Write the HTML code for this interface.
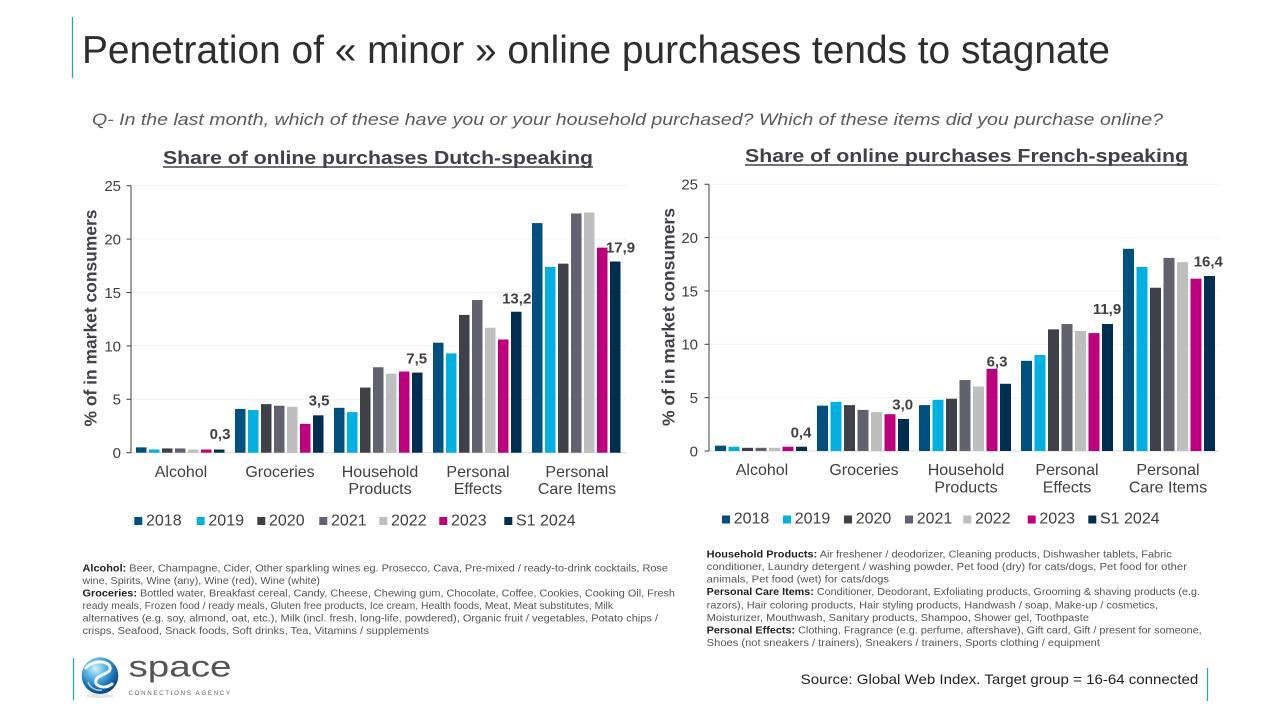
<!DOCTYPE html>
<html><head><meta charset="utf-8"><style>
html,body{margin:0;padding:0;background:#fff;}
svg{display:block;}
text{font-family:"Liberation Sans",Arial,sans-serif;}
</style></head><body>
<svg width="1280" height="720" viewBox="0 0 1280 720" xmlns="http://www.w3.org/2000/svg">
<defs>
<radialGradient id="gl" cx="0.38" cy="0.3" r="0.75">
<stop offset="0" stop-color="#d6f1fb"/><stop offset="0.35" stop-color="#5cb8e6"/><stop offset="0.75" stop-color="#1264a8"/><stop offset="1" stop-color="#0a3f78"/>
</radialGradient>
</defs>
<rect width="1280" height="720" fill="#fff"/>
<!-- header -->
<line x1="72.5" y1="17" x2="72.5" y2="78" stroke="#2aa3ba" stroke-width="1.3"/>
<text x="82" y="63" font-size="39" fill="#2e2e2e" textLength="1028" lengthAdjust="spacingAndGlyphs">Penetration of « minor » online purchases tends to stagnate</text>
<text x="92" y="125" font-size="17" font-style="italic" fill="#5a5a5a" textLength="1071" lengthAdjust="spacingAndGlyphs">Q- In the last month, which of these have you or your household purchased? Which of these items did you purchase online?</text>

<!-- chart titles -->
<text x="163" y="164" font-size="18" font-weight="bold" fill="#404048" textLength="430" lengthAdjust="spacingAndGlyphs">Share of online purchases Dutch-speaking</text>
<line x1="163" y1="167" x2="593" y2="167" stroke="#404048" stroke-width="1.5"/>
<text x="745" y="162" font-size="18" font-weight="bold" fill="#404048" textLength="443" lengthAdjust="spacingAndGlyphs">Share of online purchases French-speaking</text>
<line x1="745" y1="165" x2="1188" y2="165" stroke="#404048" stroke-width="1.5"/>

<!-- LEFT CHART -->
<g stroke="#f2f2f2" stroke-width="1">
<line x1="131" y1="185.7" x2="626" y2="185.7"/><line x1="131" y1="239.1" x2="626" y2="239.1"/><line x1="131" y1="292.5" x2="626" y2="292.5"/><line x1="131" y1="345.9" x2="626" y2="345.9"/><line x1="131" y1="399.3" x2="626" y2="399.3"/>
</g>
<line x1="131" y1="452.7" x2="626" y2="452.7" stroke="#d9d9d9" stroke-width="1"/>
<g stroke="#404040" stroke-width="1">
<line x1="131" y1="185.7" x2="131" y2="452.7"/>
<line x1="126.5" y1="185.7" x2="131" y2="185.7"/><line x1="126.5" y1="239.1" x2="131" y2="239.1"/><line x1="126.5" y1="292.5" x2="131" y2="292.5"/><line x1="126.5" y1="345.9" x2="131" y2="345.9"/><line x1="126.5" y1="399.3" x2="131" y2="399.3"/><line x1="126.5" y1="452.7" x2="131" y2="452.7"/>
</g>
<g font-size="15" fill="#404040" text-anchor="end">
<text x="121" y="191">25</text><text x="121" y="244.5">20</text><text x="121" y="298">15</text><text x="121" y="351.5">10</text><text x="121" y="404.5">5</text><text x="121" y="458">0</text>
</g>
<text transform="translate(96.5,318) rotate(-90)" text-anchor="middle" font-size="17.5" font-weight="bold" fill="#404048" textLength="217" lengthAdjust="spacingAndGlyphs">% of in market consumers</text>

<g>
<rect x="136" y="447.36" width="10.5" height="5.34" fill="#00507f"/>
<rect x="149" y="449.5" width="10.5" height="3.2" fill="#00b0e0"/>
<rect x="162" y="448.43" width="10.5" height="4.27" fill="#404048"/>
<rect x="175" y="448.43" width="10.5" height="4.27" fill="#62626e"/>
<rect x="188" y="449.5" width="10.5" height="3.2" fill="#bebebe"/>
<rect x="201" y="449.5" width="10.5" height="3.2" fill="#be007e"/>
<rect x="214" y="449.5" width="10.5" height="3.2" fill="#002e50"/>
<rect x="235" y="408.91" width="10.5" height="43.79" fill="#00507f"/>
<rect x="248" y="409.98" width="10.5" height="42.72" fill="#00b0e0"/>
<rect x="261" y="404.11" width="10.5" height="48.59" fill="#404048"/>
<rect x="274" y="405.71" width="10.5" height="46.99" fill="#62626e"/>
<rect x="287" y="406.78" width="10.5" height="45.92" fill="#bebebe"/>
<rect x="300" y="423.86" width="10.5" height="28.84" fill="#be007e"/>
<rect x="313" y="415.32" width="10.5" height="37.38" fill="#002e50"/>
<rect x="334" y="407.84" width="10.5" height="44.86" fill="#00507f"/>
<rect x="347" y="412.12" width="10.5" height="40.58" fill="#00b0e0"/>
<rect x="360" y="387.55" width="10.5" height="65.15" fill="#404048"/>
<rect x="373" y="367.26" width="10.5" height="85.44" fill="#62626e"/>
<rect x="386" y="373.67" width="10.5" height="79.03" fill="#bebebe"/>
<rect x="399" y="371.53" width="10.5" height="81.17" fill="#be007e"/>
<rect x="412" y="372.6" width="10.5" height="80.1" fill="#002e50"/>
<rect x="433" y="342.7" width="10.5" height="110" fill="#00507f"/>
<rect x="446" y="353.38" width="10.5" height="99.32" fill="#00b0e0"/>
<rect x="459" y="314.93" width="10.5" height="137.77" fill="#404048"/>
<rect x="472" y="299.98" width="10.5" height="152.72" fill="#62626e"/>
<rect x="485" y="327.74" width="10.5" height="124.96" fill="#bebebe"/>
<rect x="498" y="339.49" width="10.5" height="113.21" fill="#be007e"/>
<rect x="511" y="311.72" width="10.5" height="140.98" fill="#002e50"/>
<rect x="532" y="223.08" width="10.5" height="229.62" fill="#00507f"/>
<rect x="545" y="266.87" width="10.5" height="185.83" fill="#00b0e0"/>
<rect x="558" y="263.66" width="10.5" height="189.04" fill="#404048"/>
<rect x="571" y="213.47" width="10.5" height="239.23" fill="#62626e"/>
<rect x="584" y="212.4" width="10.5" height="240.3" fill="#bebebe"/>
<rect x="597" y="247.64" width="10.5" height="205.06" fill="#be007e"/>
<rect x="610" y="261.53" width="10.5" height="191.17" fill="#002e50"/>
</g>
<g font-size="15" font-weight="bold" fill="#404048" text-anchor="middle">
<text x="220" y="439">0,3</text><text x="319" y="405.5">3,5</text><text x="416.7" y="363.3">7,5</text><text x="516.7" y="303.3">13,2</text><text x="620.5" y="252.7">17,9</text>
</g>
<g font-size="16" fill="#404040" text-anchor="middle">
<text x="181" y="477">Alcohol</text><text x="280" y="477">Groceries</text>
<text x="380" y="477">Household</text><text x="380" y="494">Products</text>
<text x="478" y="477">Personal</text><text x="478" y="494">Effects</text>
<text x="577" y="477">Personal</text><text x="577" y="494">Care Items</text>
</g>
<g font-size="16" fill="#404040">
<rect x="134.3" y="517" width="8" height="8" fill="#00507f"/><text x="146" y="525.5">2018</text>
<rect x="196.7" y="517" width="8" height="8" fill="#00b0e0"/><text x="208.4" y="525.5">2019</text>
<rect x="257.3" y="517" width="8" height="8" fill="#404048"/><text x="269" y="525.5">2020</text>
<rect x="319.3" y="517" width="8" height="8" fill="#62626e"/><text x="331" y="525.5">2021</text>
<rect x="379.3" y="517" width="8" height="8" fill="#bebebe"/><text x="391" y="525.5">2022</text>
<rect x="439.3" y="517" width="8" height="8" fill="#be007e"/><text x="451" y="525.5">2023</text>
<rect x="504.3" y="517" width="8" height="8" fill="#002e50"/><text x="516" y="525.5">S1 2024</text>
</g>

<!-- RIGHT CHART -->
<g stroke="#f2f2f2" stroke-width="1">
<line x1="709" y1="184.25" x2="1219" y2="184.25"/><line x1="709" y1="237.6" x2="1219" y2="237.6"/><line x1="709" y1="290.95" x2="1219" y2="290.95"/><line x1="709" y1="344.3" x2="1219" y2="344.3"/><line x1="709" y1="397.65" x2="1219" y2="397.65"/>
</g>
<line x1="709" y1="451" x2="1219" y2="451" stroke="#d9d9d9" stroke-width="1"/>
<g stroke="#404040" stroke-width="1">
<line x1="709" y1="184.25" x2="709" y2="451"/>
<line x1="704.5" y1="184.25" x2="709" y2="184.25"/><line x1="704.5" y1="237.6" x2="709" y2="237.6"/><line x1="704.5" y1="290.95" x2="709" y2="290.95"/><line x1="704.5" y1="344.3" x2="709" y2="344.3"/><line x1="704.5" y1="397.65" x2="709" y2="397.65"/><line x1="704.5" y1="451" x2="709" y2="451"/>
</g>
<g font-size="15" fill="#404040" text-anchor="end">
<text x="698" y="189.5">25</text><text x="698" y="243">20</text><text x="698" y="296.5">15</text><text x="698" y="349.5">10</text><text x="698" y="403">5</text><text x="698" y="456.5">0</text>
</g>
<text transform="translate(674.5,317) rotate(-90)" text-anchor="middle" font-size="17.5" font-weight="bold" fill="#404048" textLength="218" lengthAdjust="spacingAndGlyphs">% of in market consumers</text>

<g>
<rect x="715" y="445.66" width="11" height="5.34" fill="#00507f"/>
<rect x="728.5" y="446.73" width="11" height="4.27" fill="#00b0e0"/>
<rect x="742" y="447.8" width="11" height="3.2" fill="#404048"/>
<rect x="755.5" y="447.8" width="11" height="3.2" fill="#62626e"/>
<rect x="769" y="447.8" width="11" height="3.2" fill="#bebebe"/>
<rect x="782.5" y="446.73" width="11" height="4.27" fill="#be007e"/>
<rect x="796" y="446.73" width="11" height="4.27" fill="#002e50"/>
<rect x="817" y="405.65" width="11" height="45.35" fill="#00507f"/>
<rect x="830.5" y="401.92" width="11" height="49.08" fill="#00b0e0"/>
<rect x="844" y="405.12" width="11" height="45.88" fill="#404048"/>
<rect x="857.5" y="409.92" width="11" height="41.08" fill="#62626e"/>
<rect x="871" y="412.05" width="11" height="38.95" fill="#bebebe"/>
<rect x="884.5" y="414.19" width="11" height="36.81" fill="#be007e"/>
<rect x="898" y="418.99" width="11" height="32.01" fill="#002e50"/>
<rect x="919" y="405.12" width="11" height="45.88" fill="#00507f"/>
<rect x="932.5" y="399.78" width="11" height="51.22" fill="#00b0e0"/>
<rect x="946" y="398.72" width="11" height="52.28" fill="#404048"/>
<rect x="959.5" y="380.04" width="11" height="70.96" fill="#62626e"/>
<rect x="973" y="386.45" width="11" height="64.55" fill="#bebebe"/>
<rect x="986.5" y="368.84" width="11" height="82.16" fill="#be007e"/>
<rect x="1000" y="383.78" width="11" height="67.22" fill="#002e50"/>
<rect x="1021" y="360.84" width="11" height="90.16" fill="#00507f"/>
<rect x="1034.5" y="354.97" width="11" height="96.03" fill="#00b0e0"/>
<rect x="1048" y="329.36" width="11" height="121.64" fill="#404048"/>
<rect x="1061.5" y="324.03" width="11" height="126.97" fill="#62626e"/>
<rect x="1075" y="330.96" width="11" height="120.04" fill="#bebebe"/>
<rect x="1088.5" y="333.1" width="11" height="117.9" fill="#be007e"/>
<rect x="1102" y="324.03" width="11" height="126.97" fill="#002e50"/>
<rect x="1123" y="248.8" width="11" height="202.2" fill="#00507f"/>
<rect x="1136.5" y="266.94" width="11" height="184.06" fill="#00b0e0"/>
<rect x="1150" y="287.75" width="11" height="163.25" fill="#404048"/>
<rect x="1163.5" y="257.87" width="11" height="193.13" fill="#62626e"/>
<rect x="1177" y="262.14" width="11" height="188.86" fill="#bebebe"/>
<rect x="1190.5" y="278.68" width="11" height="172.32" fill="#be007e"/>
<rect x="1204" y="276.01" width="11" height="174.99" fill="#002e50"/>
</g>
<g font-size="15" font-weight="bold" fill="#404048" text-anchor="middle">
<text x="801" y="437.7">0,4</text><text x="902.7" y="409.3">3,0</text><text x="997" y="366.7">6,3</text><text x="1107" y="314">11,9</text><text x="1208.3" y="266.7">16,4</text>
</g>
<g font-size="16" fill="#404040" text-anchor="middle">
<text x="762" y="475">Alcohol</text><text x="864" y="475">Groceries</text>
<text x="966" y="475">Household</text><text x="966" y="492.7">Products</text>
<text x="1067" y="475">Personal</text><text x="1067" y="492.7">Effects</text>
<text x="1168" y="475">Personal</text><text x="1168" y="492.7">Care Items</text>
</g>
<g font-size="16" fill="#404040">
<rect x="722" y="515.5" width="8" height="8" fill="#00507f"/><text x="733.7" y="523.5">2018</text>
<rect x="783" y="515.5" width="8" height="8" fill="#00b0e0"/><text x="794.7" y="523.5">2019</text>
<rect x="844" y="515.5" width="8" height="8" fill="#404048"/><text x="855.7" y="523.5">2020</text>
<rect x="905" y="515.5" width="8" height="8" fill="#62626e"/><text x="916.7" y="523.5">2021</text>
<rect x="963.3" y="515.5" width="8" height="8" fill="#bebebe"/><text x="975" y="523.5">2022</text>
<rect x="1027.7" y="515.5" width="8" height="8" fill="#be007e"/><text x="1039.4" y="523.5">2023</text>
<rect x="1088.3" y="515.5" width="8" height="8" fill="#002e50"/><text x="1100" y="523.5">S1 2024</text>
</g>

<!-- footnotes left -->
<g font-size="10.5" fill="#555">
<text x="82.5" y="571.5" textLength="585.5" lengthAdjust="spacingAndGlyphs"><tspan font-weight="bold" fill="#222">Alcohol:</tspan> Beer, Champagne, Cider, Other sparkling wines eg. Prosecco, Cava, Pre-mixed / ready-to-drink cocktails, Rose</text>
<text x="82.5" y="584" textLength="237.5" lengthAdjust="spacingAndGlyphs">wine, Spirits, Wine (any), Wine (red), Wine (white)</text>
<text x="82.5" y="596.5" textLength="592.5" lengthAdjust="spacingAndGlyphs"><tspan font-weight="bold" fill="#222">Groceries:</tspan> Bottled water, Breakfast cereal, Candy, Cheese, Chewing gum, Chocolate, Coffee, Cookies, Cooking Oil, Fresh</text>
<text x="82.5" y="609" textLength="530.5" lengthAdjust="spacingAndGlyphs">ready meals, Frozen food / ready meals, Gluten free products, Ice cream, Health foods, Meat, Meat substitutes, Milk</text>
<text x="82.5" y="621.5" textLength="575.5" lengthAdjust="spacingAndGlyphs">alternatives (e.g. soy, almond, oat, etc.), Milk (incl. fresh, long-life, powdered), Organic fruit / vegetables, Potato chips /</text>
<text x="82.5" y="634" textLength="346.5" lengthAdjust="spacingAndGlyphs">crisps, Seafood, Snack foods, Soft drinks, Tea, Vitamins / supplements</text>
</g>
<!-- footnotes right -->
<g font-size="10.5" fill="#555">
<text x="706.7" y="557.5" textLength="465" lengthAdjust="spacingAndGlyphs"><tspan font-weight="bold" fill="#222">Household Products:</tspan> Air freshener / deodorizer, Cleaning products, Dishwasher tablets, Fabric</text>
<text x="706.7" y="570" textLength="480.3" lengthAdjust="spacingAndGlyphs">conditioner, Laundry detergent / washing powder, Pet food (dry) for cats/dogs, Pet food for other</text>
<text x="706.7" y="582.7" textLength="182.3" lengthAdjust="spacingAndGlyphs">animals, Pet food (wet) for cats/dogs</text>
<text x="706.7" y="595.2" textLength="493.3" lengthAdjust="spacingAndGlyphs"><tspan font-weight="bold" fill="#222">Personal Care Items:</tspan> Conditioner, Deodorant, Exfoliating products, Grooming &amp; shaving products (e.g.</text>
<text x="706.7" y="608.5" textLength="451.3" lengthAdjust="spacingAndGlyphs">razors), Hair coloring products, Hair styling products, Handwash / soap, Make-up / cosmetics,</text>
<text x="706.7" y="620.8" textLength="382.3" lengthAdjust="spacingAndGlyphs">Moisturizer, Mouthwash, Sanitary products, Shampoo, Shower gel, Toothpaste</text>
<text x="706.7" y="633.5" textLength="495" lengthAdjust="spacingAndGlyphs"><tspan font-weight="bold" fill="#222">Personal Effects:</tspan> Clothing, Fragrance (e.g. perfume, aftershave), Gift card, Gift / present for someone,</text>
<text x="706.7" y="646.2" textLength="393.3" lengthAdjust="spacingAndGlyphs">Shoes (not sneakers / trainers), Sneakers / trainers, Sports clothing / equipment</text>
</g>

<!-- logo -->
<line x1="73.5" y1="658" x2="73.5" y2="700" stroke="#2aa3ba" stroke-width="1.3"/>
<ellipse cx="100" cy="696" rx="14" ry="2" fill="#e6e6e6"/>
<circle cx="100" cy="675.7" r="18.3" fill="url(#gl)"/>
<path d="M86,668 C92,660 108,660 110,667 C112,674 98,674 96,680 C94,686 104,690 112,684" fill="none" stroke="#fff" stroke-width="3" stroke-linecap="round" opacity="0.95"/>
<path d="M88,682 C90,688 96,691 102,690" fill="none" stroke="#cfeefa" stroke-width="1.5" opacity="0.8"/>
<text x="128.5" y="676.5" font-size="29.5" fill="#555" textLength="103" lengthAdjust="spacingAndGlyphs">space</text>
<text x="128.5" y="695" font-size="6.2" fill="#666" textLength="103" lengthAdjust="spacing" letter-spacing="1.5">CONNECTIONS AGENCY</text>

<!-- source -->
<text x="800.7" y="684" font-size="14" fill="#222" textLength="397.6" lengthAdjust="spacingAndGlyphs">Source: Global Web Index. Target group = 16-64 connected</text>
<line x1="1207.5" y1="668" x2="1207.5" y2="701" stroke="#2aa3ba" stroke-width="1.3"/>
</svg>
</body></html>
